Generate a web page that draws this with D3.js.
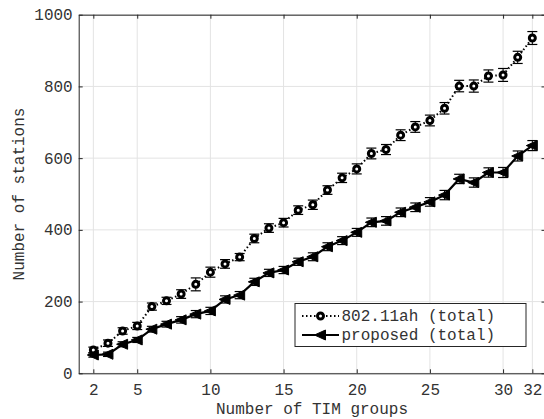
<!DOCTYPE html>
<html>
<head>
<meta charset="utf-8">
<script src="https://cdn.jsdelivr.net/npm/d3@7"></script>
<style>
  body { margin: 0; background: #fff; }
  text { font-family: "Liberation Mono", "DejaVu Sans Mono", monospace; fill: #333; }
</style>
</head>
<body>
<svg id="chart" width="544" height="419"></svg>
<script>
// number of TIM groups
var groups = d3.range(2, 33);
// 802.11ah (total)
var ahTotal = [65, 84, 118, 132, 186, 202, 221, 248, 282, 305, 324, 376, 405, 420, 455, 470,
               511, 545, 570, 613, 624, 664, 687, 705, 739, 801, 801, 829, 832, 881, 935];
var ahErr = [8, 9, 9, 10, 10, 10, 12, 18, 14, 12, 10, 12, 12, 12, 12, 13,
             12, 13, 14, 15, 14, 15, 15, 15, 16, 16, 17, 17, 18, 17, 18];
// proposed (total)
var propTotal = [51, 53, 81, 93, 123, 137, 149, 165, 174, 206, 218, 255, 280, 288, 311, 325,
                 353, 370, 393, 421, 425, 449, 463, 478, 497, 542, 532, 560, 560, 606, 635];
var propErr = [6, 6, 7, 7, 8, 8, 9, 10, 10, 10, 10, 10, 10, 10, 10, 11,
               11, 11, 11, 12, 12, 12, 12, 12, 13, 13, 13, 13, 14, 14, 14];
var xTicks = [2, 5, 10, 15, 20, 25, 30, 32];
var yTicks = [0, 200, 400, 600, 800, 1000];
var seriesNames = ["802.11ah (total)", "proposed (total)"];

var margin = {left: 78.7, right: 545.5, top: 14.7, bottom: 373.3};
var axisColor = "#262626";
var fontSize = 16;

var svg = d3.select("#chart");

var x = d3.scaleLinear().domain([1, 32.9]).range([margin.left, margin.right]);
var y = d3.scaleLinear().domain([0, 1000]).range([margin.bottom, margin.top]);

/* grid */
svg.append("g").selectAll("line")
    .data(xTicks).enter().append("line")
    .attr("x1", d => x(d)).attr("x2", d => x(d))
    .attr("y1", margin.top).attr("y2", margin.bottom)
    .attr("stroke", "#e3e3e3").attr("stroke-width", 1);
svg.append("g").selectAll("line")
    .data(yTicks).enter().append("line")
    .attr("x1", margin.left).attr("x2", margin.right)
    .attr("y1", d => y(d)).attr("y2", d => y(d))
    .attr("stroke", "#e3e3e3").attr("stroke-width", 1);

/* axes (ticks inward) */
var xAx = svg.append("g")
    .attr("transform", "translate(0," + margin.bottom + ")")
    .call(d3.axisBottom(x).tickValues(xTicks).tickSizeInner(-4).tickSizeOuter(0).tickPadding(10));
var xTop = svg.append("g")
    .attr("transform", "translate(0," + margin.top + ")")
    .call(d3.axisTop(x).tickValues(xTicks).tickSizeInner(-4).tickSizeOuter(0).tickFormat(""));
var yAx = svg.append("g")
    .attr("transform", "translate(" + margin.left + ",0)")
    .call(d3.axisLeft(y).tickValues(yTicks).tickSizeInner(-4).tickSizeOuter(0)
        .tickPadding(6).tickFormat(d3.format("d")));
var yRight = svg.append("g")
    .attr("transform", "translate(" + margin.right + ",0)")
    .call(d3.axisRight(y).tickValues(yTicks).tickSizeInner(-4).tickSizeOuter(0).tickFormat(""));

[xAx, xTop, yAx, yRight].forEach(function(g) {
    g.selectAll("path, line").attr("stroke", axisColor);
    g.selectAll("text").attr("font-size", fontSize)
        .attr("font-family", "Liberation Mono, monospace").attr("fill", "#333");
});

/* axis titles */
svg.append("text")
    .attr("x", 312).attr("y", 414)
    .attr("text-anchor", "middle").attr("font-size", fontSize)
    .text("Number of TIM groups");
svg.append("text")
    .attr("transform", "translate(24," + ((margin.top + margin.bottom) / 2) + ") rotate(-90)")
    .attr("text-anchor", "middle").attr("font-size", fontSize)
    .text("Number of stations");

var ahData = groups.map((g, i) => ({x: g, y: ahTotal[i], e: ahErr[i]}));
var propData = groups.map((g, i) => ({x: g, y: propTotal[i], e: propErr[i]}));

var line = d3.line().x(d => x(d.x)).y(d => y(d.y));

function errorBars(data) {
    var sel = svg.append("g").selectAll("g").data(data).enter().append("g");
    sel.append("line")
        .attr("x1", d => x(d.x)).attr("x2", d => x(d.x))
        .attr("y1", d => y(d.y - d.e)).attr("y2", d => y(d.y + d.e))
        .attr("stroke", "#000").attr("stroke-width", 1);
    [-1, 1].forEach(function(s) {
        sel.append("line")
            .attr("x1", d => x(d.x) - 5).attr("x2", d => x(d.x) + 5)
            .attr("y1", d => y(d.y + s * d.e)).attr("y2", d => y(d.y + s * d.e))
            .attr("stroke", "#000").attr("stroke-width", 1.2);
    });
}

/* 802.11ah */
errorBars(ahData);
svg.append("path").datum(ahData)
    .attr("d", line).attr("fill", "none")
    .attr("stroke", "#000").attr("stroke-width", 2)
    .attr("stroke-dasharray", "1.5,2.5");
svg.append("g").selectAll("circle").data(ahData).enter().append("circle")
    .attr("cx", d => x(d.x)).attr("cy", d => y(d.y)).attr("r", 3)
    .attr("fill", "#fff").attr("stroke", "#000").attr("stroke-width", 3);

/* proposed */
errorBars(propData);
svg.append("path").datum(propData)
    .attr("d", line).attr("fill", "none")
    .attr("stroke", "#000").attr("stroke-width", 2.2);
var tri = "M-6,0L5,-5L5,5Z";
svg.append("g").selectAll("path").data(propData).enter().append("path")
    .attr("transform", d => "translate(" + x(d.x) + "," + y(d.y) + ")")
    .attr("d", tri).attr("fill", "#000").attr("stroke", "#000").attr("stroke-width", 1);

/* legend */
var legend = svg.append("g").attr("transform", "translate(295,303.5)");
legend.append("rect")
    .attr("x", 0).attr("y", 0).attr("width", 231).attr("height", 43)
    .attr("fill", "#fff").attr("stroke", axisColor).attr("stroke-width", 1);
legend.append("line")
    .attr("x1", 7).attr("x2", 44).attr("y1", 12.5).attr("y2", 12.5)
    .attr("stroke", "#000").attr("stroke-width", 2).attr("stroke-dasharray", "1.5,2.5");
legend.append("circle")
    .attr("cx", 25.5).attr("cy", 12.5).attr("r", 3)
    .attr("fill", "#fff").attr("stroke", "#000").attr("stroke-width", 3);
legend.append("line")
    .attr("x1", 7).attr("x2", 44).attr("y1", 31.5).attr("y2", 31.5)
    .attr("stroke", "#000").attr("stroke-width", 2.2);
legend.append("path")
    .attr("transform", "translate(25.5,31.5)")
    .attr("d", tri).attr("fill", "#000").attr("stroke", "#000");
legend.selectAll("text").data(seriesNames).enter().append("text")
    .attr("x", 46.5).attr("y", (d, i) => 17.5 + i * 19)
    .attr("font-size", fontSize)
    .text(d => d);
</script>
</body>
</html>
